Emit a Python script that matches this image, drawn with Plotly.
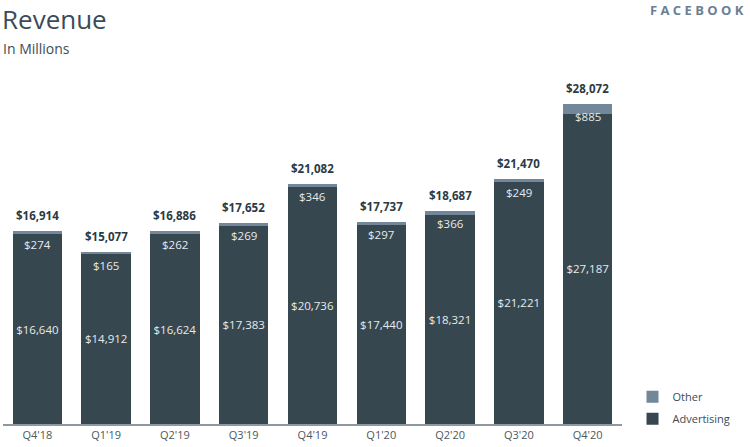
import plotly.graph_objects as go

quarters = ["Q4'18", "Q1'19", "Q2'19", "Q3'19", "Q4'19", "Q1'20", "Q2'20", "Q3'20", "Q4'20"]
advertising = [16640, 14912, 16624, 17383, 20736, 17440, 18321, 21221, 27187]
other = [274, 165, 262, 269, 346, 297, 366, 249, 885]
totals = [16914, 15077, 16886, 17652, 21082, 17737, 18687, 21470, 28072]

ADV = "#36474f"
OTH = "#72879a"
FONT = "Open Sans, Noto Sans, sans-serif"

fig = go.Figure()
fig.add_trace(go.Bar(
    x=quarters, y=advertising, name="Advertising", legendgroup="adv", legendrank=2,
    marker=dict(color=ADV, line=dict(width=0)),
    text=[f"${v:,}" for v in advertising], textposition="inside", insidetextanchor="middle",
    textfont=dict(color="#e6ebee", size=11.5, family=FONT), textangle=0,
    hoverinfo="skip",
))
fig.add_trace(go.Bar(
    x=quarters, y=other, name="Other", legendgroup="oth", legendrank=1,
    marker=dict(color=OTH, line=dict(width=0)),
    hoverinfo="skip",
))

for q, o, t in zip(quarters, other, totals):
    fig.add_annotation(x=q, y=t, text=f"${o:,}", showarrow=False, yanchor="middle",
                       yshift=-13, font=dict(color="#e6ebee", size=11.5, family=FONT))
    fig.add_annotation(x=q, y=t, text=f"<b>${t:,}</b>", showarrow=False, yanchor="bottom",
                       yshift=6, font=dict(color="#2b3a44", size=11.5, family=FONT))

fig.add_annotation(xref="paper", yref="paper", x=-0.005, y=1.0, yshift=60, xanchor="left", yanchor="top",
                   text="Revenue", showarrow=False, font=dict(size=26, color="#3b4c58", family=FONT))
fig.add_annotation(xref="paper", yref="paper", x=-0.003, y=1.0, yshift=11, xanchor="left", yanchor="middle",
                   text="In Millions", showarrow=False, font=dict(size=14, color="#3b4c58", family=FONT))
fig.add_annotation(xref="paper", yref="paper", x=1.2, y=1.0, yshift=49, xanchor="right", yanchor="middle",
                   text="<b>F A C E B O O K</b>", showarrow=False, font=dict(size=13, color="#6b7f90", family=FONT))

fig.update_layout(
    width=750, height=447,
    margin=dict(l=3, r=128, t=59, b=23, autoexpand=False),
    plot_bgcolor="white", paper_bgcolor="white",
    barmode="stack", bargap=0.28,
    showlegend=True,
    legend=dict(x=1.017, y=-0.025, xanchor="left", yanchor="bottom", traceorder="grouped",
                tracegroupgap=3,
                font=dict(size=11, color="#3b4c58", family=FONT), itemwidth=30,
                bgcolor="rgba(0,0,0,0)"),
    xaxis=dict(showline=True, linecolor="#8e989e", linewidth=2, ticks="", automargin=False,
               tickfont=dict(size=11, color="#4a5860", family=FONT), showgrid=False),
    yaxis=dict(range=[0, 32000], visible=False, showgrid=False, automargin=False),
)

fig.write_html("out.html", config={"displayModeBar": False},
               post_script="document.body.style.margin='0';document.body.style.overflow='hidden';")
